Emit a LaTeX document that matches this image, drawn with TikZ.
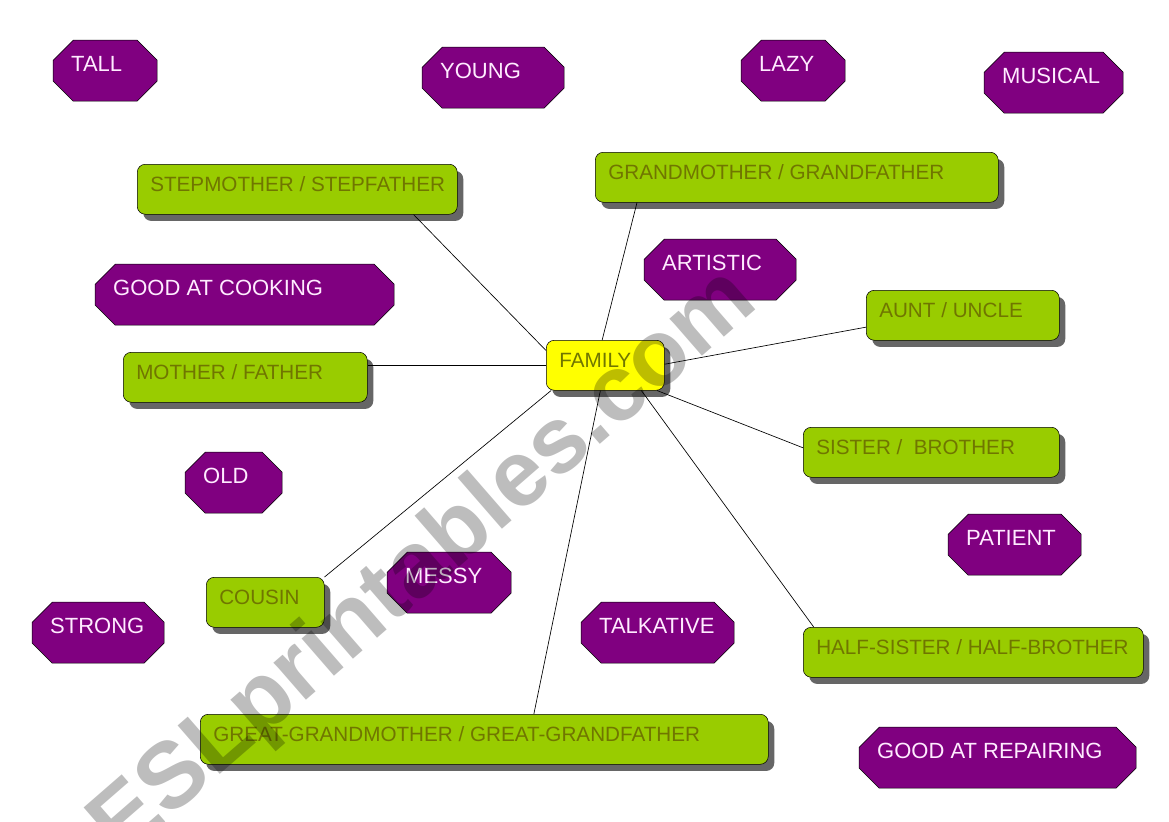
\documentclass[tikz,border=0pt]{standalone}
\usepackage{fontspec}
\setmainfont{Liberation Sans}
\usetikzlibrary{shapes.misc,shadows}

\definecolor{traitpurple}{RGB}{128,0,128}
\definecolor{traittext}{RGB}{255,235,255}
\definecolor{kingreen}{RGB}{153,204,0}
\definecolor{kinolive}{RGB}{112,118,0}
\definecolor{hubyellow}{RGB}{255,255,0}

% fixed-width, left-aligned label text
\newcommand{\boxtxt}[2]{\makebox[#1][l]{#2}}

\tikzset{
  trait/.style={chamfered rectangle, chamfered rectangle xsep=7.5pt,
    chamfered rectangle ysep=7.5pt, draw=black, fill=traitpurple,
    text=traittext, anchor=north west, xshift=7.5pt, yshift=-7.5pt,
    inner xsep=6pt, inner ysep=0pt, text height=16.1pt, text depth=14.6pt,
    font=\fontsize{16.5}{18}\selectfont},
  kin/.style={rectangle, rounded corners=6pt, draw=black, fill=kingreen,
    text=kinolive, anchor=north west, inner xsep=9.75pt, inner ysep=0pt,
    text height=20.6pt, text depth=16.9pt,
    font=\fontsize{15.5}{17}\selectfont,
    drop shadow={shadow xshift=4.5pt, shadow yshift=-5pt, fill=black!60,
      opacity=1}},
  hub/.style={kin, fill=hubyellow},
  tie/.style={draw=black, line width=0.5pt},
  watermark/.style={text=black, text opacity=0.26, rotate=41,
    font=\fontsize{70}{70}\selectfont\bfseries}
}

\begin{document}
\begin{tikzpicture}[x=0.75pt, y=-0.75pt]
  \useasboundingbox (0,0) rectangle (1169,821);
  \fill[white] (0,0) rectangle (1169,821);
  \clip (0,0) rectangle (1169,821);

  % adjectives
  \node[trait] (tall) at (53,40) {\boxtxt{51pt}{TALL}};
  \node[trait] (young) at (422,47) {\boxtxt{79.5pt}{YOUNG}};
  \node[trait] (lazy) at (741,40) {\boxtxt{51pt}{LAZY}};
  \node[trait] (musical) at (984,52) {\boxtxt{77.25pt}{MUSICAL}};
  \node[trait] (artistic) at (644,239) {\boxtxt{87pt}{ARTISTIC}};
  \node[trait] (cooking) at (95,264) {\boxtxt{197.25pt}{GOOD AT COOKING}};
  \node[trait] (old) at (185,452) {\boxtxt{45.75pt}{OLD}};
  \node[trait] (messy) at (387,552) {\boxtxt{66pt}{MESSY}};
  \node[trait] (strong) at (32,602) {\boxtxt{72pt}{STRONG}};
  \node[trait] (talkative) at (581,602) {\boxtxt{87.75pt}{TALKATIVE}};
  \node[trait] (patient) at (948,514) {\boxtxt{72.75pt}{PATIENT}};
  \node[trait] (repairing) at (859,727) {\boxtxt{180.75pt}{GOOD AT REPAIRING}};

  % family members
  \node[kin] (step) at (137,164) {\boxtxt{220.5pt}{STEPMOTHER / STEPFATHER}};
  \node[kin] (grand) at (595,152) {\boxtxt{282.75pt}{GRANDMOTHER / GRANDFATHER}};
  \node[kin] (aunt) at (866,290) {\boxtxt{125.25pt}{AUNT / UNCLE}};
  \node[kin] (parents) at (123,352) {\boxtxt{163.5pt}{MOTHER / FATHER}};
  \node[kin] (sibling) at (803,427) {\boxtxt{172.5pt}{SISTER /~~BROTHER}};
  \node[kin] (cousin) at (206,577) {\boxtxt{69pt}{COUSIN}};
  \node[kin] (half) at (803,627) {\boxtxt{235.5pt}{HALF-SISTER / HALF-BROTHER}};
  \node[kin] (great) at (200,714) {\boxtxt{406.5pt}{GREAT-GRANDMOTHER / GREAT-GRANDFATHER}};
  \node[hub] (family) at (546,340) {\boxtxt{69pt}{FAMILY}};

  % links
  \draw[tie] (family.166) -- ([xshift=-33pt]step.south east);
  \draw[tie] (family.97) -- ([xshift=31.5pt]grand.south west);
  \draw[tie] (family.1.5) -- (aunt.187.1);
  \draw[tie] (family.west) -- (family.west -| parents.east);
  \draw[tie] (family.-26.6) -- (sibling.178.9);
  \draw[tie] (family.205.7) -- (cousin.north east);
  \draw[tie] (family.-35) -- (half.171.3);
  \draw[tie] (family.-101.5) -- (great.27);

  \node[watermark] (mark) at (425,565) {ESLprintables.com};
\end{tikzpicture}
\end{document}
